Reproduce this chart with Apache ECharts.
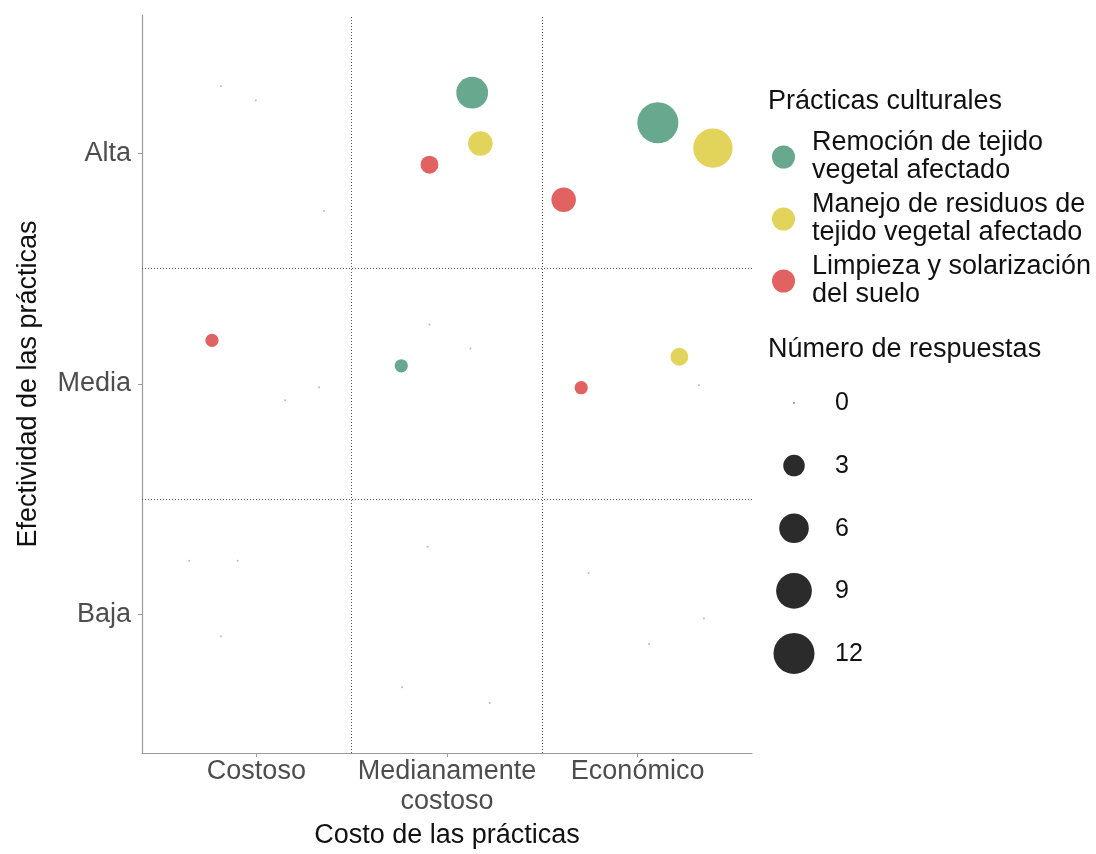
<!DOCTYPE html>
<html>
<head>
<meta charset="utf-8">
<script src="https://cdn.jsdelivr.net/npm/echarts@6/dist/echarts.min.js"></script>
<style>
html,body{margin:0;padding:0;background:#fff;}
#chart{width:1096px;height:854px;}
</style>
</head>
<body>
<div id="chart"></div>
<script>
// ---- data ----
const xCategories = ['Costoso', 'Medianamente\ncostoso', 'Económico'];
const yCategories = ['Baja', 'Media', 'Alta'];
const seriesNames = [
  'Remoción de tejido\nvegetal afectado',
  'Manejo de residuos de\ntejido vegetal afectado',
  'Limpieza y solarización\ndel suelo'
];
// each point: [x position (jittered around category 1..3), y position (jittered around 1..3), number of responses]
const remocion = [
  [3.106, 3.133, 12], [2.132, 3.263, 7], [1.760, 2.079, 1],
  [0.814, 3.292, 0], [1.329, 1.986, 0], [3.322, 1.995, 0],
  [0.648, 1.234, 0], [1.765, 0.685, 0], [2.742, 1.181, 0]
];
const manejo = [
  [3.395, 3.023, 11], [2.175, 3.043, 4], [3.219, 2.118, 2],
  [0.997, 3.230, 0], [1.151, 1.930, 0], [2.123, 2.154, 0],
  [0.902, 1.234, 0], [1.899, 1.294, 0], [3.348, 0.983, 0]
];
const limpieza = [
  [1.908, 2.951, 2], [2.612, 2.799, 4], [0.767, 2.189, 1], [2.704, 1.984, 1],
  [1.355, 2.750, 0], [1.908, 2.258, 0], [0.814, 0.906, 0], [2.224, 0.617, 0], [3.060, 0.873, 0]
];
const sizeBreaks = [0, 3, 6, 9, 12];
const legendTitle = 'Prácticas culturales';
const sizeTitle = 'Número de respuestas';
const xTitle = 'Costo de las prácticas';
const yTitle = 'Efectividad de las prácticas';

// ---- style ----
const FONT = "'Liberation Sans', Arial, sans-serif";
const FS = 27;
const colors = ['#68A88E', '#E2D35A', '#E26262'];
const ZERO_COLOR = 'rgba(140,140,140,0.6)';
const MIN_D = 2, MAX_D = 41, MAX_N = 12;
function sizeOf(n) { return MIN_D + (MAX_D - MIN_D) * Math.sqrt(n / MAX_N); }

const chart = echarts.init(document.getElementById('chart'), null, {renderer: 'canvas'});

const dataSets = [remocion, manejo, limpieza];
const series = dataSets.map((d, i) => ({
  name: seriesNames[i],
  type: 'scatter',
  data: d.map(p => ({value: p, itemStyle: p[2] === 0 ? {color: ZERO_COLOR} : undefined})),
  symbol: 'circle',
  symbolSize: v => sizeOf(v[2]),
  itemStyle: {color: colors[i], opacity: 1},
  z: 3,
  silent: true
}));
series[0].markLine = {
  silent: true,
  symbol: ['none', 'none'],
  label: {show: false},
  lineStyle: {color: '#555', type: [1, 2], width: 1},
  data: [{xAxis: 1.5}, {xAxis: 2.5}, {yAxis: 1.5}, {yAxis: 2.5}],
  z: 1
};

// legend titles and size legend graphics
const graphics = [
  {type: 'text', left: 768, top: 88, style: {text: legendTitle, font: FS + 'px ' + FONT, fill: '#111'}},
  {type: 'text', left: 768, top: 336, style: {text: sizeTitle, font: FS + 'px ' + FONT, fill: '#111'}}
];
const sizeY0 = 403, sizeStep = 62.6, sizeCx = 794;
sizeBreaks.forEach((b, k) => {
  const cy = sizeY0 + k * sizeStep;
  graphics.push({type: 'circle', shape: {cx: sizeCx, cy: cy, r: sizeOf(b) / 2}, style: {fill: b === 0 ? '#888' : '#2b2b2b'}});
  graphics.push({type: 'text', left: 835, top: cy - 12, style: {text: String(b), font: '25px ' + FONT, fill: '#111'}});
});

const option = {
  backgroundColor: '#fff',
  animation: false,
  textStyle: {fontFamily: FONT},
  grid: {left: 142, top: 15, width: 610, height: 738, containLabel: false},
  xAxis: {
    type: 'value', min: 0.4, max: 3.6,
    name: xTitle, nameLocation: 'middle', nameGap: 68,
    nameTextStyle: {fontSize: FS, color: '#111', fontFamily: FONT},
    axisLine: {show: true, onZero: false, lineStyle: {color: '#9a9a9a', width: 1.2}},
    axisTick: {show: true, length: 4, customValues: [1, 2, 3], lineStyle: {color: '#9a9a9a'}},
    axisLabel: {
      customValues: [1, 2, 3], margin: 4, fontSize: FS, color: '#4d4d4d', lineHeight: 30,
      fontFamily: FONT, formatter: v => xCategories[Math.round(v) - 1]
    },
    splitLine: {show: false}
  },
  yAxis: {
    type: 'value', min: 0.4, max: 3.6,
    name: yTitle, nameLocation: 'middle', nameGap: 100, nameRotate: 90,
    nameTextStyle: {fontSize: FS, color: '#111', fontFamily: FONT},
    axisLine: {show: true, onZero: false, lineStyle: {color: '#9a9a9a', width: 1.2}},
    axisTick: {show: true, length: 4, customValues: [1, 2, 3], lineStyle: {color: '#9a9a9a'}},
    axisLabel: {
      customValues: [1, 2, 3], margin: 11, fontSize: FS, color: '#4d4d4d',
      fontFamily: FONT, formatter: v => yCategories[Math.round(v) - 1]
    },
    splitLine: {show: false}
  },
  legend: {
    show: true, orient: 'vertical', left: 767, top: 124,
    itemWidth: 47, itemHeight: 23, itemGap: 6, icon: 'circle',
    selectedMode: false,
    textStyle: {fontSize: FS, color: '#111', lineHeight: 28, fontFamily: FONT},
    data: seriesNames.map((n, i) => ({name: n, itemStyle: {color: colors[i]}}))
  },
  graphic: graphics,
  series: series
};
chart.setOption(option);
</script>
</body>
</html>
